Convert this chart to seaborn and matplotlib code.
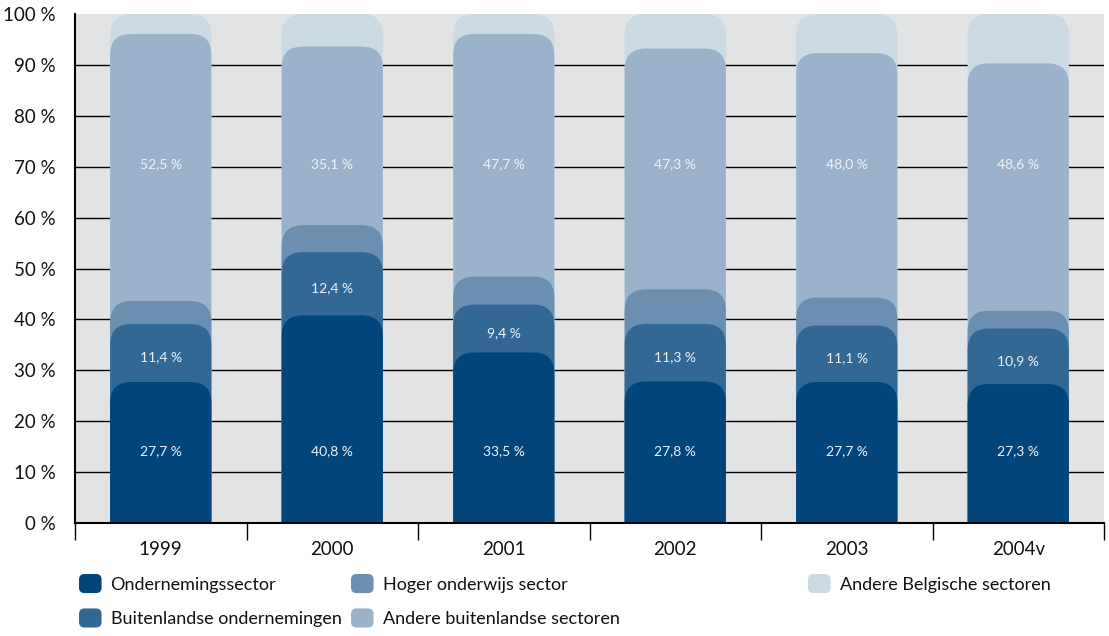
import matplotlib
matplotlib.use("Agg")
import matplotlib.pyplot as plt
import seaborn as sns
import numpy as np
import pandas as pd
from matplotlib.patches import FancyBboxPatch, Patch
from matplotlib.legend_handler import HandlerPatch

years = ["1999", "2000", "2001", "2002", "2003", "2004v"]
ondernemingssector = [27.7, 40.8, 33.5, 27.8, 27.7, 27.3]
buitenlandse_ond = [11.4, 12.4, 9.4, 11.3, 11.1, 10.9]
hoger_onderwijs = [4.5, 5.3, 5.5, 6.8, 5.5, 3.5]
andere_buitenl = [52.5, 35.1, 47.7, 47.3, 48.0, 48.6]

series = ["Ondernemingssector", "Buitenlandse ondernemingen", "Hoger onderwijs sector",
          "Andere buitenlandse sectoren", "Andere Belgische sectoren"]
colors = ["#02457a", "#336895", "#6a8fb0", "#9ab3cb", "#cbdae3"]

df = pd.DataFrame({
    "jaar": years,
    series[0]: ondernemingssector,
    series[1]: buitenlandse_ond,
    series[2]: hoger_onderwijs,
    series[3]: andere_buitenl,
})
df[series[4]] = 100 - df[series[:4]].sum(axis=1)
cum = df[series].cumsum(axis=1)

sns.set_theme(style="white")
plt.rcParams["font.family"] = ["Lato", "DejaVu Sans"]

fig = plt.figure(figsize=(11.09, 6.36), dpi=100)
ax = fig.add_axes([75 / 1109, 1 - 523 / 636, 1029 / 1109, 509 / 636])
ax.set_facecolor("#e2e3e5")

# draw the cumulative layers from the top one down
for name, col in reversed(list(zip(series, colors))):
    sns.barplot(x=df["jaar"], y=cum[name], color=col, saturation=1, width=0.59,
                errorbar=None, ax=ax, zorder=2)

ax.set_xlim(-0.5, 5.5)
ax.set_ylim(0, 100)

# rounded tops
xpp = 6 / 1029
ypp = 100 / 509
r_px = 21
rx = r_px * xpp
ry = r_px * ypp
for bar in list(ax.patches):
    x, w, h = bar.get_x(), bar.get_width(), bar.get_height()
    fb = FancyBboxPatch((x, -ry), w, h + ry, boxstyle=f"round,pad=0,rounding_size={rx}",
                        mutation_aspect=ypp / xpp, fc=bar.get_facecolor(), ec="none",
                        zorder=2)
    bar.remove()
    ax.add_patch(fb)

# labels
lab_col = "#eef2f6"
for i in range(len(years)):
    ax.text(i, 14.2, f"{ondernemingssector[i]:.1f} %".replace(".", ","), ha="center",
            va="center", color=lab_col, fontsize=10, zorder=5)
    mid = ondernemingssector[i] + buitenlandse_ond[i] / 2 - 0.9
    ax.text(i, mid, f"{buitenlandse_ond[i]:.1f} %".replace(".", ","), ha="center",
            va="center", color=lab_col, fontsize=10, zorder=5)
    ax.text(i, 70.5, f"{andere_buitenl[i]:.1f} %".replace(".", ","), ha="center",
            va="center", color=lab_col, fontsize=10, zorder=5)

# axes styling
ax.set_xlabel("")
ax.set_ylabel("")
ax.set_yticks(range(0, 101, 10))
ax.set_yticklabels([f"{v} %" for v in range(0, 101, 10)])
ax.yaxis.grid(True, color="black", lw=1)
ax.get_ygridlines()[-1].set_visible(False)
ax.set_axisbelow(True)
ax.tick_params(axis="y", length=10, width=1, color="black", labelsize=13.5, pad=4,
               labelcolor="#111111")
ax.set_xticks(range(len(years)))
ax.set_xticklabels(years)
ax.set_xticks(np.arange(-0.5, 6, 1), minor=True)
ax.tick_params(axis="x", which="major", length=0, pad=13, labelsize=13.5,
               labelcolor="#111111")
ax.tick_params(axis="x", which="minor", length=12, width=1, color="black", bottom=True,
               direction="out")
for s in ["top", "right"]:
    ax.spines[s].set_visible(False)
for s in ["left", "bottom"]:
    ax.spines[s].set_color("black")
    ax.spines[s].set_linewidth(1.5)


class RoundHandler(HandlerPatch):
    def create_artists(self, legend, orig_handle, xdescent, ydescent, width, height,
                       fontsize, trans):
        p = FancyBboxPatch((-xdescent, -ydescent), width, height,
                           boxstyle="round,pad=0,rounding_size=4",
                           fc=orig_handle.get_facecolor(), ec="none", transform=trans)
        return [p]


handles = [Patch(fc=c, label=n) for n, c in zip(series, colors)]
groups = [([0, 1], 79), ([2, 3], 351), ([4], 808)]
for idx, xpix in groups:
    leg = fig.legend([handles[k] for k in idx], [series[k] for k in idx],
                     loc="upper left", bbox_to_anchor=(xpix / 1109, 1 - 574 / 636),
                     frameon=False, fontsize=13, handlelength=1.25, handleheight=1.25,
                     handletextpad=0.5, labelspacing=0.85, borderpad=0, borderaxespad=0,
                     handler_map={Patch: RoundHandler()})
    for t in leg.get_texts():
        t.set_color("#111111")

fig.savefig("out.png", dpi=100)
